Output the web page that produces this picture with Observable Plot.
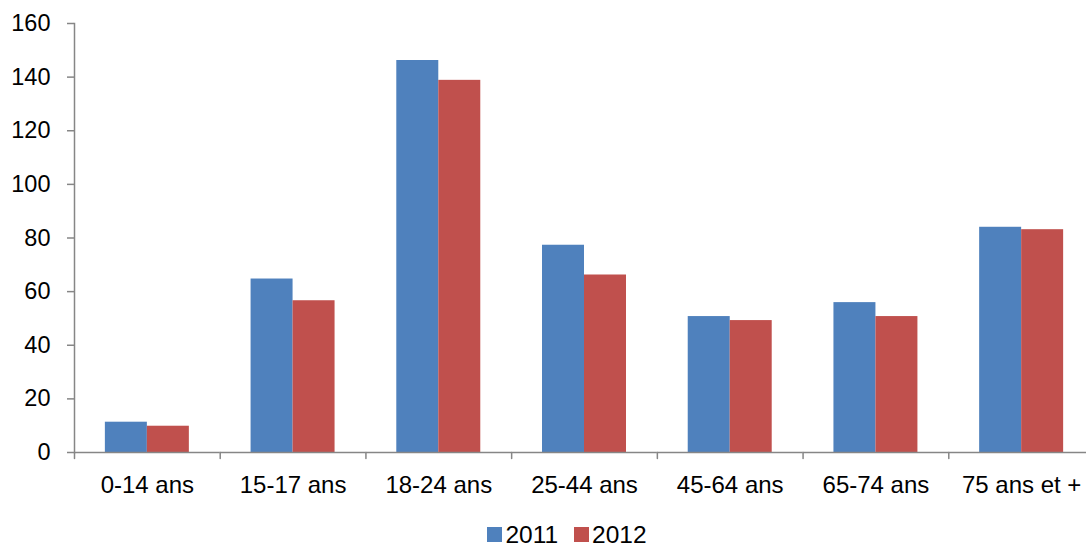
<!DOCTYPE html>
<html>
<head>
<meta charset="utf-8">
<script src="https://cdn.jsdelivr.net/npm/d3@7"></script>
<script src="https://cdn.jsdelivr.net/npm/@observablehq/plot@0.6"></script>
<style>
  html, body { margin: 0; padding: 0; background: #fff; overflow: hidden; }
  body { width: 1086px; height: 546px; font-family: "Liberation Sans", Arial, sans-serif; color: #000; }
  #legend { height: 41px; display: flex; justify-content: center; align-items: center; font-size: 24.5px; gap: 16px; padding-left: 48px; padding-top: 18px; box-sizing: border-box; }
  .item { display: flex; align-items: center; }
  .sw { width: 15px; height: 15px; margin-right: 3px; }
</style>
</head>
<body>
<div id="chart"></div>
<div id="legend"></div>
<script>
const categories = ["0-14 ans", "15-17 ans", "18-24 ans", "25-44 ans", "45-64 ans", "65-74 ans", "75 ans et +"];
const years = ["2011", "2012"];
const values2011 = [11.3, 64.7, 146.2, 77.3, 50.7, 55.9, 84.0];
const values2012 = [9.8, 56.6, 138.8, 66.2, 49.2, 50.7, 83.1];
const yTicks = [0, 20, 40, 60, 80, 100, 120, 140, 160];
const colors = ["#4F81BD", "#C0504D"];
const axisGray = "#868686";

const data = [];
categories.forEach((c, i) => {
  data.push({category: c, year: years[0], value: values2011[i]});
  data.push({category: c, year: years[1], value: values2012[i]});
});

const tickShape = {
  draw(context, l) {
    context.moveTo(0, 0);
    context.lineTo(0, -l);
  }
};

const plot = Plot.plot({
  width: 1086,
  height: 505,
  marginTop: 23,
  marginBottom: 53,
  marginLeft: 74,
  marginRight: -8,
  style: {fontFamily: "'Liberation Sans', Arial, sans-serif", color: "#000", background: "#fff"},
  fx: {domain: categories, padding: 0, round: false, label: null},
  x: {domain: years, paddingInner: 0, paddingOuter: 0.735, round: false, axis: null},
  y: {domain: [0, 160], label: null},
  color: {domain: years, range: colors},
  marks: [
    Plot.barY(data, {fx: "category", x: "year", y: "value", fill: "year", inset: 0}),
    Plot.ruleY([0], {stroke: axisGray, strokeWidth: 1.5}),
    Plot.frame({anchor: "left", facetAnchor: "left", stroke: axisGray, strokeWidth: 1.5}),
    Plot.vector([0], {frameAnchor: "bottom-left", length: 6, rotate: 180, anchor: "start", stroke: axisGray, strokeWidth: 1.5, shape: tickShape}),
    Plot.axisY({ticks: yTicks, tickSize: 7, tickPadding: 17, fontSize: 23.5, label: null, stroke: axisGray, strokeWidth: 1.5}),
    Plot.axisFx({anchor: "bottom", tickSize: 0, tickPadding: 23, fontSize: 24, label: null})
  ]
});
document.getElementById("chart").appendChild(plot);

const legend = document.getElementById("legend");
years.forEach((y, i) => {
  const item = document.createElement("div");
  item.className = "item";
  const sw = document.createElement("div");
  sw.className = "sw";
  sw.style.background = colors[i];
  const t = document.createElement("span");
  t.textContent = y;
  item.appendChild(sw);
  item.appendChild(t);
  legend.appendChild(item);
});
</script>
</body>
</html>
